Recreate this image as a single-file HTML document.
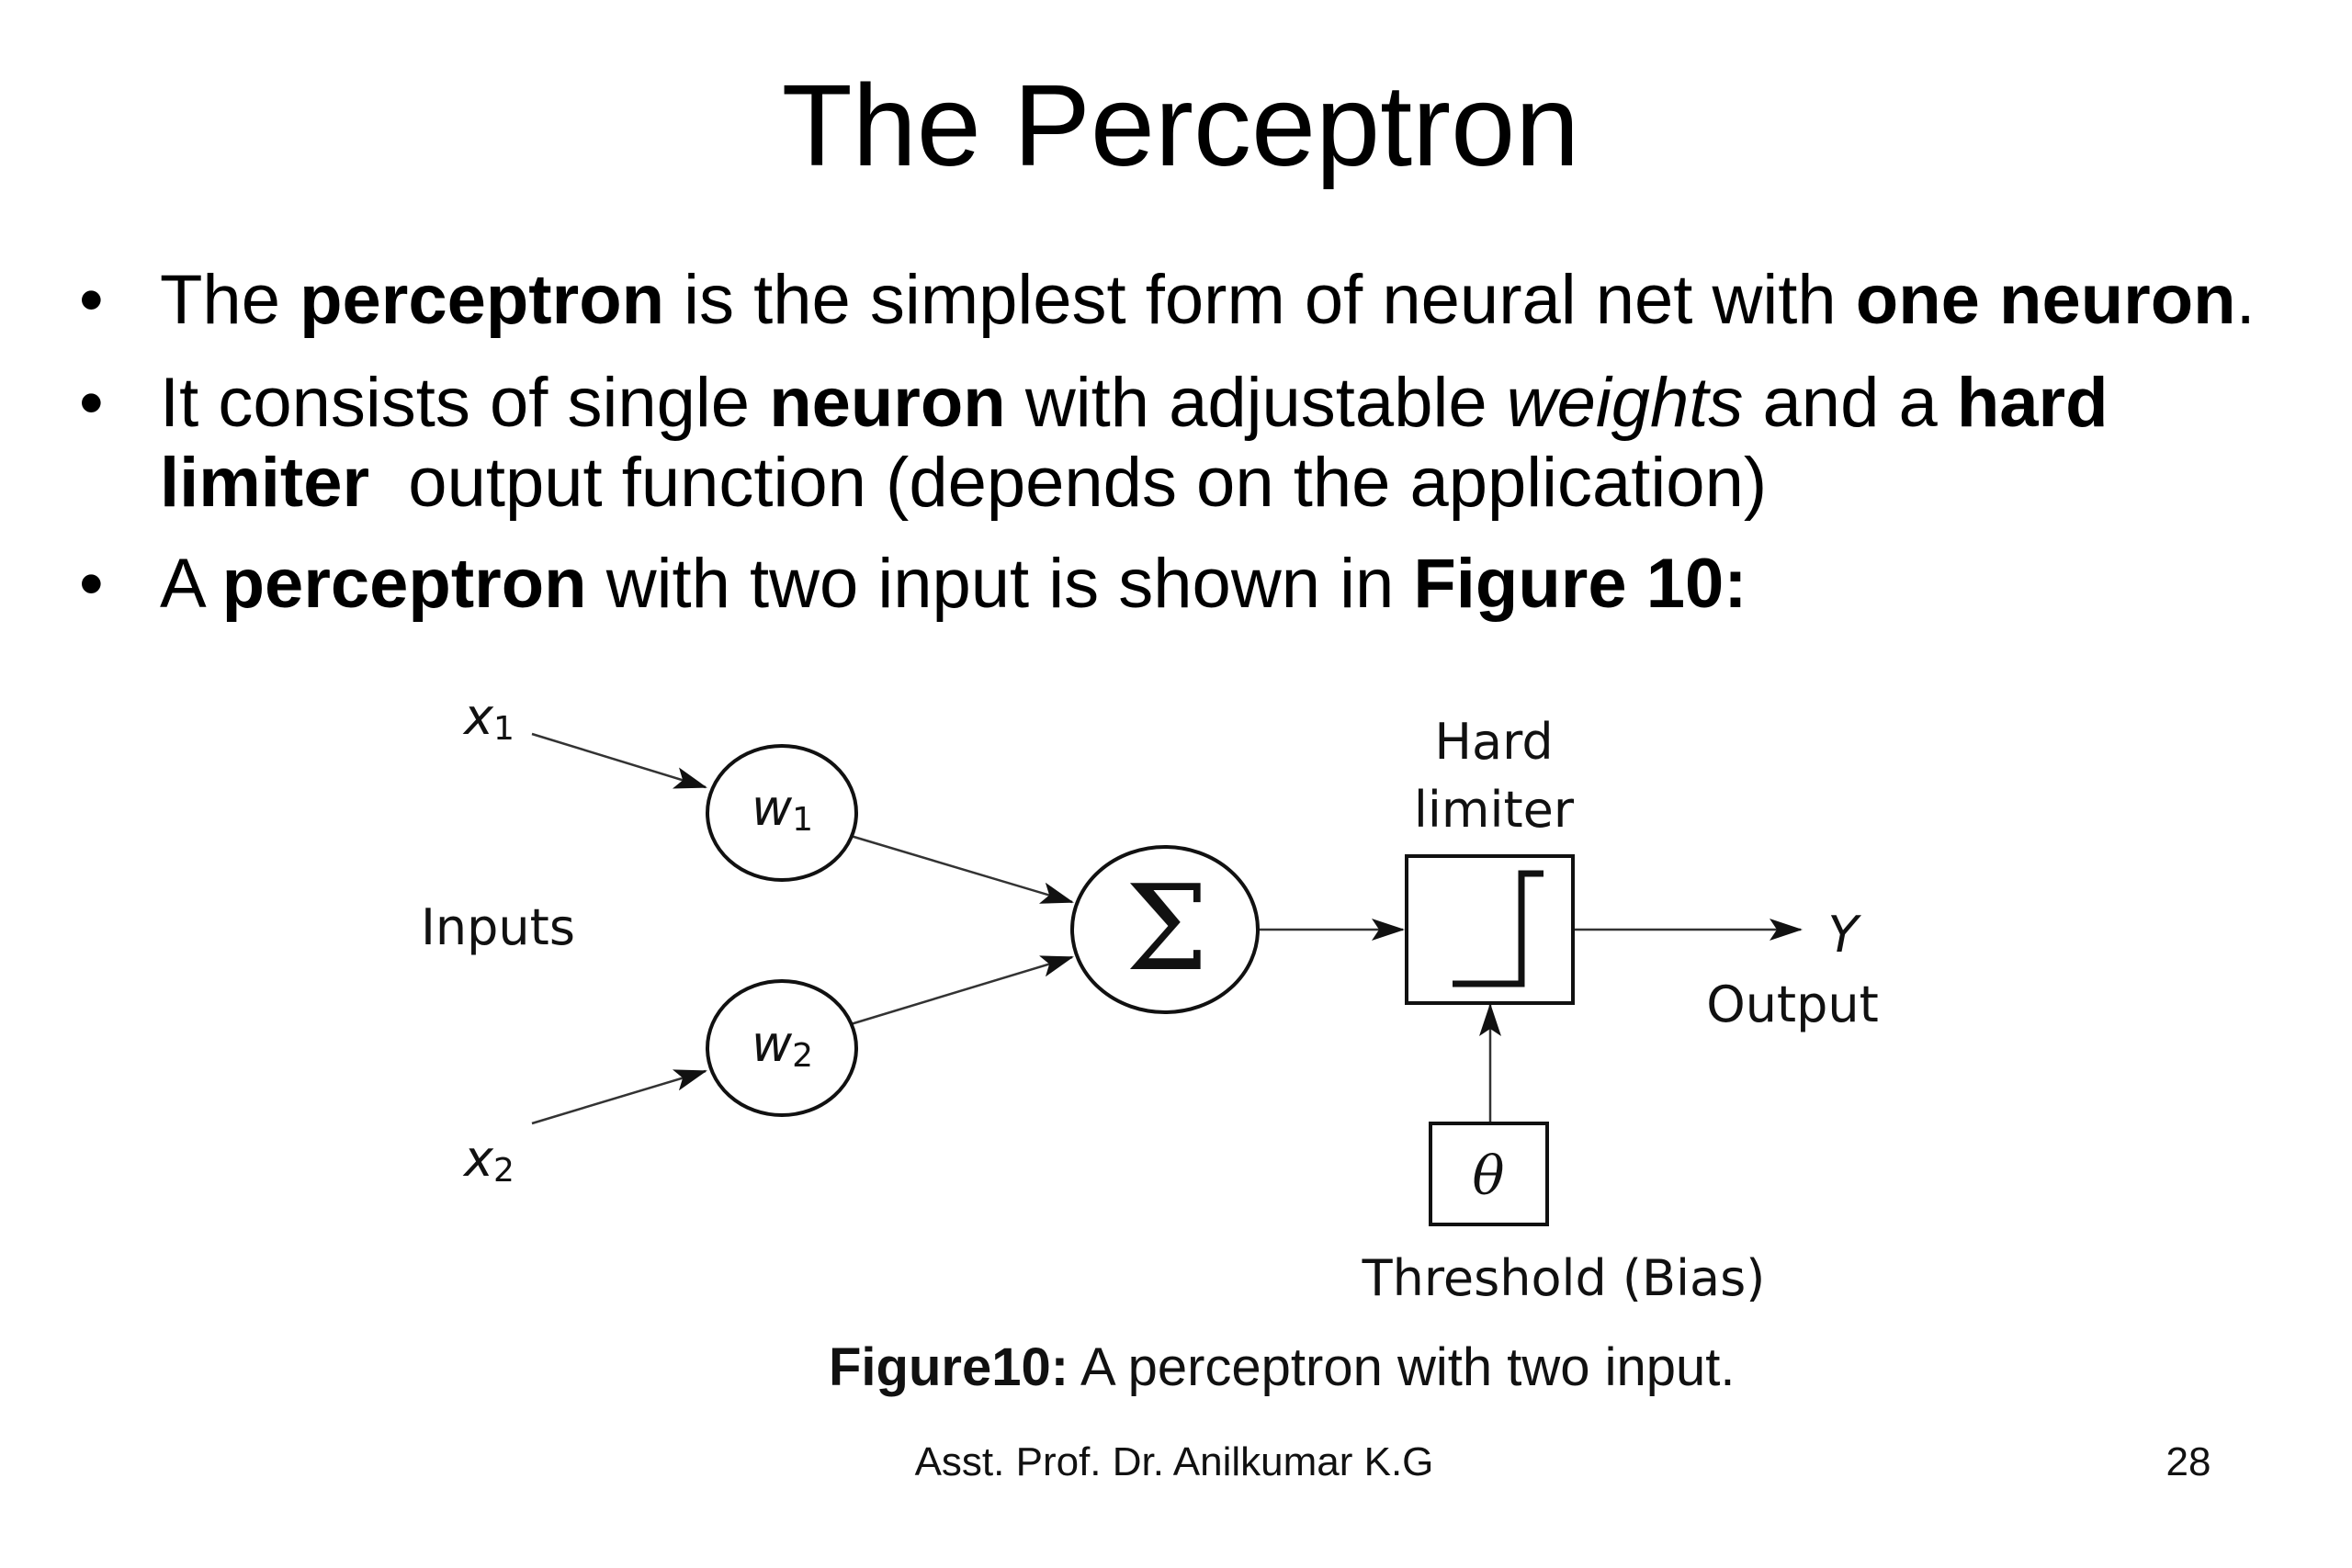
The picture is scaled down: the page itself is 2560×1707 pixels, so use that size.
<!DOCTYPE html>
<html><head><meta charset="utf-8"><style>
html,body{margin:0;padding:0;background:#fff;}
body{width:2560px;height:1707px;position:relative;overflow:hidden;font-family:"Liberation Sans",Arial,sans-serif;color:#000;}
.t{position:absolute;white-space:nowrap;}
</style></head><body>
<div class="t" style="left:0;width:2570px;text-align:center;top:64px;font-size:126px;">The Perceptron</div>
<div class="t" style="left:86px;top:283px;font-size:76px;">•</div>
<div class="t" style="left:174px;top:283px;font-size:76px;">The <b>perceptron</b> is the simplest form of neural net with <b>one neuron</b>.</div>
<div class="t" style="left:86px;top:395px;font-size:76px;">•</div>
<div class="t" style="left:174px;top:395px;font-size:76px;">It consists of single <b>neuron</b> with adjustable <i>weights</i> and a <b>hard</b></div>
<div class="t" style="left:174px;top:482px;font-size:76px;"><b>limiter</b>&nbsp; output function (depends on the application)</div>
<div class="t" style="left:86px;top:592px;font-size:76px;">•</div>
<div class="t" style="left:174px;top:592px;font-size:76px;">A <b>perceptron</b> with two input is shown in <b>Figure 10:</b></div>

<svg width="2560" height="1707" style="position:absolute;left:0;top:0" xmlns="http://www.w3.org/2000/svg">
<defs>
<marker id="b" markerWidth="36" markerHeight="24" refX="34" refY="12" orient="auto" markerUnits="userSpaceOnUse" viewBox="0 0 36 24"><path d="M0,0 L36,12 L0,24 L8,12 z" fill="#111"/></marker></defs>
<g stroke="#333" stroke-width="2.5" fill="none">
<line x1="579" y1="799" x2="768" y2="857" marker-end="url(#b)"/>
<line x1="579" y1="1223" x2="768" y2="1166" marker-end="url(#b)"/>
<line x1="926" y1="910" x2="1167" y2="982" marker-end="url(#b)"/>
<line x1="926" y1="1115" x2="1167" y2="1042" marker-end="url(#b)"/>
<line x1="1369" y1="1012" x2="1527" y2="1012" marker-end="url(#b)"/>
<line x1="1712" y1="1012" x2="1960" y2="1012" marker-end="url(#b)"/>
<line x1="1622" y1="1223" x2="1622" y2="1094" marker-end="url(#b)"/>
</g>
<g stroke="#111" stroke-width="4" fill="#fff">
<ellipse cx="851" cy="885" rx="81" ry="73"/>
<ellipse cx="851" cy="1141" rx="81" ry="73"/>
<ellipse cx="1268" cy="1012" rx="101" ry="90"/>
<rect x="1531" y="932" width="181" height="160"/>
<rect x="1557" y="1223" width="127" height="110"/>
</g>
<path d="M1581,1071 H1656 V951 H1680" stroke="#111" stroke-width="7" fill="none"/>
<g font-family="DejaVu Sans, Liberation Sans, sans-serif" fill="#111">
<text x="505" y="799" font-size="54" font-style="italic">x<tspan font-size="36" font-style="normal" dy="6">1</tspan></text>
<text x="505" y="1280" font-size="54" font-style="italic">x<tspan font-size="36" font-style="normal" dy="6">2</tspan></text>
<text x="818" y="898" font-size="54" font-style="italic">w<tspan font-size="36" font-style="normal" dy="6">1</tspan></text>
<text x="818" y="1155" font-size="54" font-style="italic">w<tspan font-size="36" font-style="normal" dy="6">2</tspan></text>
<text x="1270" y="1055" font-size="128" text-anchor="middle" font-family="DejaVu Serif, serif">Σ</text>
<text x="458" y="1028" font-size="54">Inputs</text>
<text x="1626" y="826" font-size="54" text-anchor="middle">Hard</text>
<text x="1626" y="900" font-size="54" text-anchor="middle">limiter</text>
<text x="2006" y="1036" font-size="54" font-style="italic" text-anchor="middle">Y</text>
<text x="1951" y="1112" font-size="54" text-anchor="middle">Output</text>
<text x="1620" y="1300" font-size="58" font-style="italic" text-anchor="middle" font-family="DejaVu Serif, serif">θ</text>
<text x="1702" y="1410" font-size="54" text-anchor="middle">Threshold (Bias)</text>
</g>
<g font-family="Liberation Sans, Arial, sans-serif" fill="#111">
<text x="902" y="1508" font-size="58"><tspan font-weight="bold">Figure10:</tspan>  A perceptron with two input.</text>
<text x="1278" y="1606" font-size="44" text-anchor="middle">Asst. Prof. Dr. Anilkumar K.G</text>
<text x="2382" y="1606" font-size="44" text-anchor="middle">28</text>
</g>
</svg>
</body></html>
